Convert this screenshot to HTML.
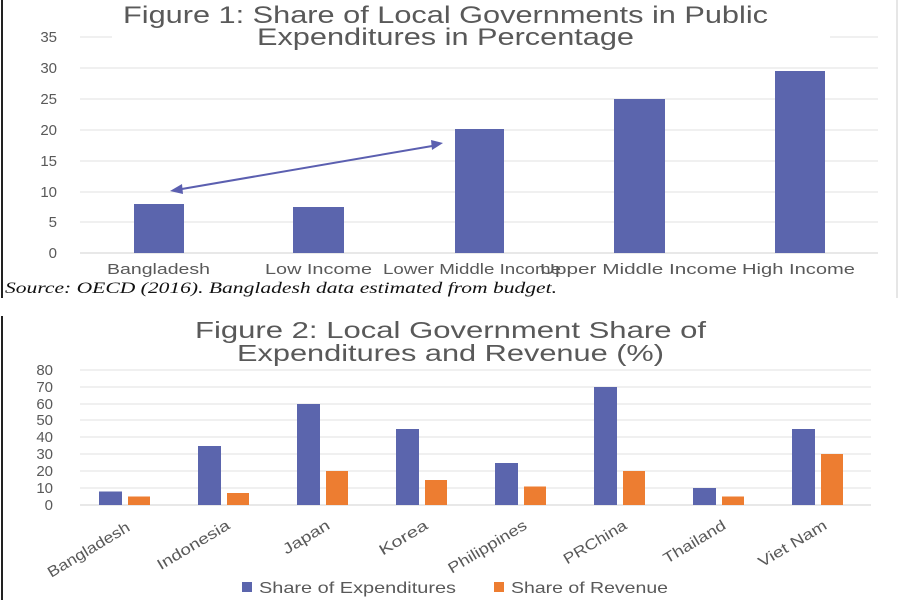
<!DOCTYPE html>
<html><head><meta charset="utf-8"><style>html,body{margin:0;padding:0;background:#fff}svg{display:block}</style></head>
<body>
<svg width="900" height="600" viewBox="0 0 900 600" xmlns="http://www.w3.org/2000/svg" font-family="Liberation Sans, DejaVu Sans, sans-serif">
<rect width="900" height="600" fill="#fff"/>
<line x1="2" y1="0" x2="2" y2="298" stroke="#222" stroke-width="2"/>
<line x1="2" y1="316" x2="2" y2="600" stroke="#222" stroke-width="2"/>
<line x1="897" y1="0" x2="897" y2="298" stroke="#ccc" stroke-width="1"/>
<!-- Figure 1 -->
<g fill="#595959" font-size="24" lengthAdjust="spacingAndGlyphs">
<text x="123" y="23" textLength="645" lengthAdjust="spacingAndGlyphs">Figure 1: Share of Local Governments in Public</text>
<text x="257" y="45" textLength="377" lengthAdjust="spacingAndGlyphs">Expenditures in Percentage</text>
</g>
<g stroke="#e6e6e6" stroke-width="1.2">
<line x1="80" y1="37" x2="112" y2="37"/><line x1="830" y1="37" x2="878" y2="37"/>
<line x1="80" y1="68" x2="878" y2="68"/>
<line x1="80" y1="99" x2="878" y2="99"/>
<line x1="80" y1="130" x2="878" y2="130"/>
<line x1="80" y1="161" x2="878" y2="161"/>
<line x1="80" y1="192" x2="878" y2="192"/>
<line x1="80" y1="222" x2="878" y2="222"/>
<line x1="80" y1="253" x2="878" y2="253" stroke="#d9d9d9"/>
</g>
<g fill="#595959" font-size="15" text-anchor="end">
<text x="57" y="42">35</text><text x="57" y="73">30</text><text x="57" y="104">25</text>
<text x="57" y="135">20</text><text x="57" y="166">15</text><text x="57" y="197">10</text>
<text x="57" y="227">5</text><text x="57" y="258">0</text>
</g>
<g fill="#5b65ad">
<rect x="134" y="204" width="50" height="49"/>
<rect x="293" y="207" width="51" height="46"/>
<rect x="455" y="129" width="49" height="124"/>
<rect x="614" y="99" width="51" height="154"/>
<rect x="775" y="71" width="50" height="182"/>
</g>
<g stroke="#5b5fb0" stroke-width="2" fill="#5b5fb0">
<line x1="176" y1="190" x2="438" y2="145"/>
<polygon points="170,191 182,184 183,194" stroke="none"/>
<polygon points="443,143 431,140 432,150" stroke="none"/>
</g>
<g fill="#595959" font-size="15">
<text x="107" y="274" textLength="103" lengthAdjust="spacingAndGlyphs">Bangladesh</text>
<text x="265" y="274" textLength="107" lengthAdjust="spacingAndGlyphs">Low Income</text>
<text x="383" y="274" textLength="178" lengthAdjust="spacingAndGlyphs">Lower Middle Income</text>
<text x="540" y="274" textLength="197" lengthAdjust="spacingAndGlyphs">Upper Middle  Income</text>
<text x="742" y="274" textLength="113" lengthAdjust="spacingAndGlyphs">High Income</text>
</g>
<text x="5" y="293" font-family="Liberation Serif, serif" font-style="italic" font-size="16" fill="#111" textLength="552" lengthAdjust="spacingAndGlyphs">Source:  OECD (2016).  Bangladesh data estimated from budget.</text>
<!-- Figure 2 -->
<g fill="#595959" font-size="23">
<text x="195" y="338" textLength="511" lengthAdjust="spacingAndGlyphs">Figure 2: Local Government Share of</text>
<text x="237" y="361" textLength="427" lengthAdjust="spacingAndGlyphs">Expenditures and Revenue (%)</text>
</g>
<g stroke="#e6e6e6" stroke-width="1.2">
<line x1="80" y1="370" x2="871" y2="370"/>
<line x1="80" y1="387" x2="871" y2="387"/>
<line x1="80" y1="404" x2="871" y2="404"/>
<line x1="80" y1="420" x2="871" y2="420"/>
<line x1="80" y1="437" x2="871" y2="437"/>
<line x1="80" y1="454" x2="871" y2="454"/>
<line x1="80" y1="471" x2="871" y2="471"/>
<line x1="80" y1="488" x2="871" y2="488"/>
<line x1="80" y1="505" x2="871" y2="505" stroke="#d9d9d9"/>
</g>
<g fill="#595959" font-size="15" text-anchor="end">
<text x="53" y="375">80</text><text x="53" y="392">70</text><text x="53" y="409">60</text>
<text x="53" y="425">50</text><text x="53" y="442">40</text><text x="53" y="459">30</text>
<text x="53" y="476">20</text><text x="53" y="493">10</text><text x="53" y="510">0</text>
</g>
<g fill="#5b65ad">
<rect x="99" y="491.5" width="23" height="13.5"/>
<rect x="198" y="446" width="23" height="59"/>
<rect x="297" y="404" width="23" height="101"/>
<rect x="396" y="429" width="23" height="76"/>
<rect x="495" y="463" width="23" height="42"/>
<rect x="594" y="387" width="23" height="118"/>
<rect x="693" y="488" width="23" height="17"/>
<rect x="792" y="429" width="23" height="76"/>
</g>
<g fill="#ed7d31">
<rect x="128" y="496.5" width="22" height="8.5"/>
<rect x="227" y="493" width="22" height="12"/>
<rect x="326" y="471" width="22" height="34"/>
<rect x="425" y="480" width="22" height="25"/>
<rect x="524" y="486.5" width="22" height="18.5"/>
<rect x="623" y="471" width="22" height="34"/>
<rect x="722" y="496.5" width="22" height="8.5"/>
<rect x="821" y="454" width="22" height="51"/>
</g>
<g fill="#595959" font-size="15" text-anchor="end">
<text transform="translate(131,530) rotate(-31)" textLength="93" lengthAdjust="spacingAndGlyphs">Bangladesh</text>
<text transform="translate(231,528) rotate(-31)" textLength="82" lengthAdjust="spacingAndGlyphs">Indonesia</text>
<text transform="translate(331,528) rotate(-31)" textLength="52" lengthAdjust="spacingAndGlyphs">Japan</text>
<text transform="translate(429,528) rotate(-31)" textLength="54" lengthAdjust="spacingAndGlyphs">Korea</text>
<text transform="translate(528,528) rotate(-31)" textLength="89" lengthAdjust="spacingAndGlyphs">Philippines</text>
<text transform="translate(628,528) rotate(-31)" textLength="71" lengthAdjust="spacingAndGlyphs">PRChina</text>
<text transform="translate(727,528) rotate(-31)" textLength="70" lengthAdjust="spacingAndGlyphs">Thailand</text>
<text transform="translate(828,528) rotate(-31)" textLength="77" lengthAdjust="spacingAndGlyphs">Viet Nam</text>
</g>
<rect x="242" y="582" width="10" height="10" fill="#5b65ad"/>
<text x="259" y="593" fill="#595959" font-size="16" textLength="197" lengthAdjust="spacingAndGlyphs">Share of Expenditures</text>
<rect x="494" y="582" width="10" height="10" fill="#ed7d31"/>
<text x="511" y="593" fill="#595959" font-size="16" textLength="157" lengthAdjust="spacingAndGlyphs">Share of Revenue</text>
</svg>
</body></html>
